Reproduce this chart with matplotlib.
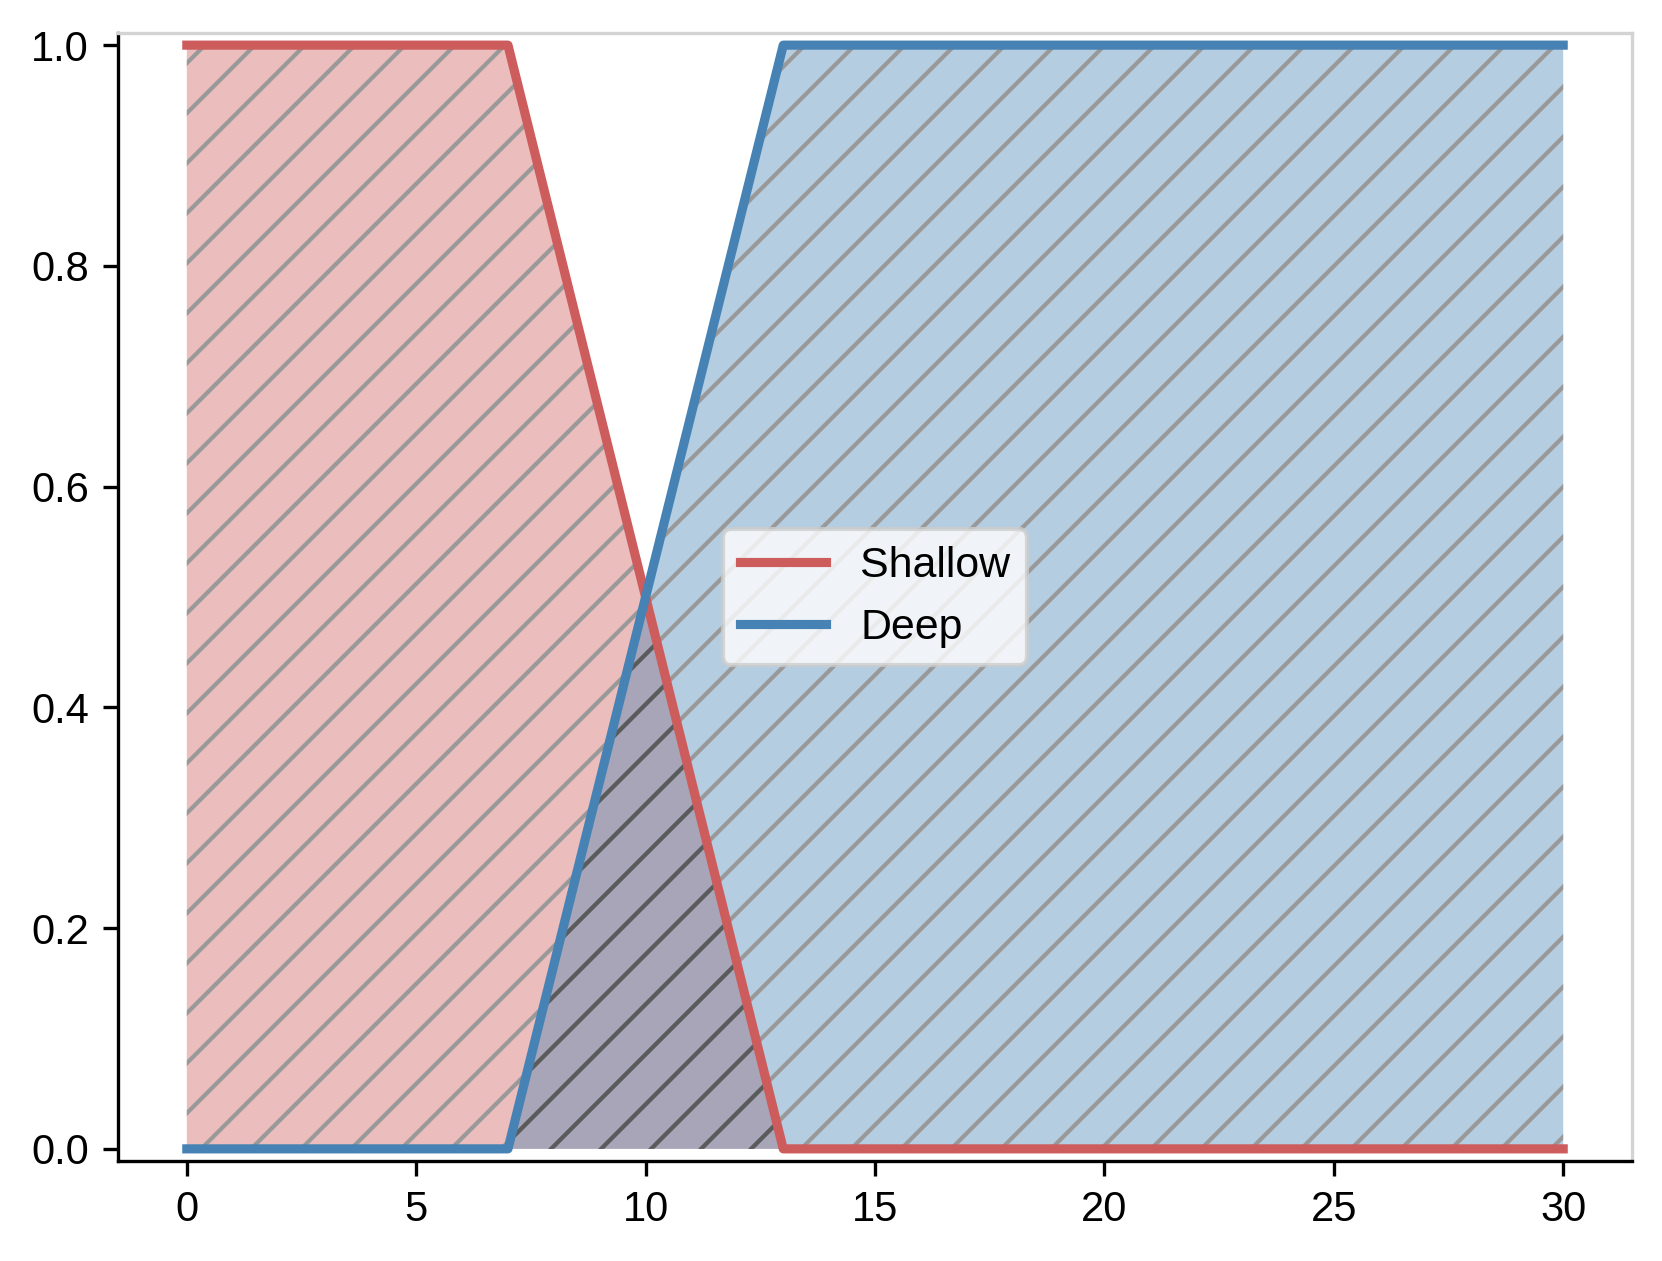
import numpy as np
import matplotlib
matplotlib.use("Agg")
import matplotlib.pyplot as plt

# Membership function breakpoints
depth = [0, 7, 13, 30]
shallow = [1, 1, 0, 0]
deep = [0, 0, 1, 1]

plt.rcParams['font.family'] = ['Liberation Sans', 'DejaVu Sans']
plt.rcParams['hatch.linewidth'] = 1.0

fig = plt.figure(figsize=(1662 / 300, 1261 / 300), dpi=300)
ax = fig.add_axes([118 / 1662, 1 - 1161 / 1261, (1632 - 118) / 1662, (1161 - 33) / 1261])

# Filled areas under each membership curve
with plt.rc_context({'hatch.color': (0.6, 0.6, 0.6, 1.0)}):
    red_fill = ax.fill_between(depth, 0, shallow, facecolor='indianred', edgecolor='none', alpha=0.4, hatch='//')
    ax.fill_between(depth, 0, deep, facecolor='steelblue', edgecolor='none', alpha=0.4, hatch='//')

# Darker hatching where the two areas overlap
with plt.rc_context({'hatch.color': (0, 0, 0, 0.4)}):
    overlap = ax.fill_between(depth, 0, deep, facecolor=(1, 1, 1, 0), edgecolor='none', hatch='//')
overlap.set_clip_path(red_fill.get_paths()[0], ax.transData)

ax.plot(depth, shallow, color='indianred', lw=2.2, label='Shallow')
ax.plot(depth, deep, color='steelblue', lw=2.2, label='Deep')

ax.set_xlim(-1.5, 31.5)
ax.set_ylim(-0.011, 1.011)
ax.set_xticks([0, 5, 10, 15, 20, 25, 30])
ax.set_yticks([0.0, 0.2, 0.4, 0.6, 0.8, 1.0])
ax.tick_params(labelsize=10)

ax.spines['top'].set_color('lightgray')
ax.spines['right'].set_color('lightgray')

ax.legend(loc='center', fontsize=10.3)

fig.savefig('out.png', dpi=300)
